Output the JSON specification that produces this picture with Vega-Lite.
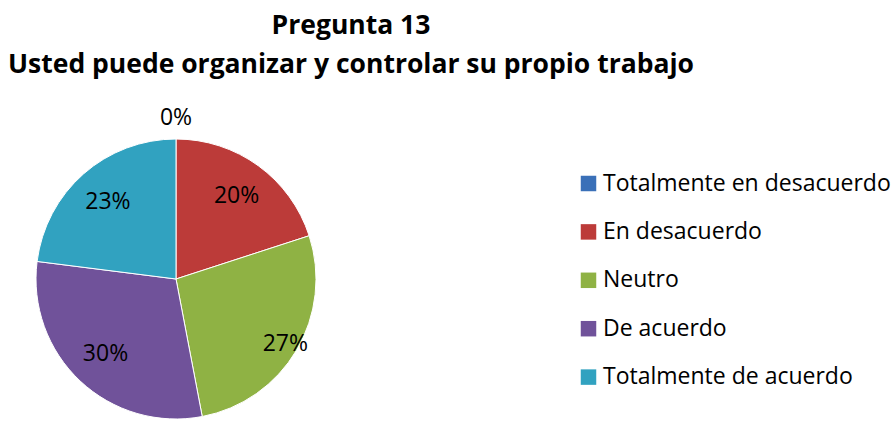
{
  "$schema": "https://vega.github.io/schema/vega-lite/v6.json",
  "width": 352,
  "height": 280,
  "autosize": {"type": "none"},
  "padding": {"left": 0, "top": 139, "right": 543, "bottom": 2},
  "background": "#ffffff",
  "config": {"view": {"stroke": null}},
  "title": {
    "text": ["Pregunta 13", "Usted puede organizar y controlar su propio trabajo"],
    "font": "Open Sans",
    "fontWeight": "bold",
    "fontSize": 26.5,
    "color": "#000000",
    "anchor": "middle",
    "frame": "group",
    "dx": 175,
    "offset": 29,
    "lineHeight": 39
  },
  "data": {
    "values": [
      {"n": 1, "respuesta": "Totalmente en desacuerdo", "valor": 0.0},
      {"n": 2, "respuesta": "En desacuerdo", "valor": 0.20},
      {"n": 3, "respuesta": "Neutro", "valor": 0.27},
      {"n": 4, "respuesta": "De acuerdo", "valor": 0.30},
      {"n": 5, "respuesta": "Totalmente de acuerdo", "valor": 0.23}
    ]
  },
  "encoding": {
    "theta": {"field": "valor", "type": "quantitative", "stack": true},
    "order": {"field": "n", "type": "quantitative"}
  },
  "layer": [
    {
      "mark": {"type": "arc", "outerRadius": 140, "stroke": "#ffffff", "strokeWidth": 1},
      "encoding": {
        "color": {
          "field": "respuesta",
          "type": "nominal",
          "sort": ["Totalmente en desacuerdo", "En desacuerdo", "Neutro", "De acuerdo", "Totalmente de acuerdo"],
          "scale": {
            "domain": ["Totalmente en desacuerdo", "En desacuerdo", "Neutro", "De acuerdo", "Totalmente de acuerdo"],
            "range": ["#3A70B8", "#BC3B39", "#8FB244", "#70529A", "#31A2C0"]
          },
          "legend": {
            "title": null,
            "orient": "none",
            "legendX": 577,
            "legendY": 33,
            "padding": 0,
            "symbolType": "square",
            "symbolSize": 240,
            "symbolStrokeWidth": 0,
            "labelFont": "Open Sans",
            "labelFontSize": 23,
            "labelColor": "#000000",
            "labelLimit": 400,
            "labelOffset": 3,
            "rowPadding": 24.4
          }
        }
      }
    },
    {
      "mark": {"type": "text", "radius": 103, "font": "Open Sans", "fontSize": 23, "color": "#000000"},
      "encoding": {
        "text": {
          "condition": {"test": "datum.valor > 0 && datum.n != 3", "field": "valor", "type": "quantitative", "format": ".0%"},
          "value": ""
        }
      }
    },
    {
      "mark": {"type": "text", "radius": 127, "font": "Open Sans", "fontSize": 23, "color": "#000000"},
      "encoding": {
        "text": {
          "condition": {"test": "datum.n == 3", "field": "valor", "type": "quantitative", "format": ".0%"},
          "value": ""
        }
      }
    },
    {
      "mark": {"type": "text", "radius": 161, "font": "Open Sans", "fontSize": 23, "color": "#000000"},
      "encoding": {
        "text": {
          "condition": {"test": "datum.valor == 0", "field": "valor", "type": "quantitative", "format": ".0%"},
          "value": ""
        }
      }
    }
  ]
}
